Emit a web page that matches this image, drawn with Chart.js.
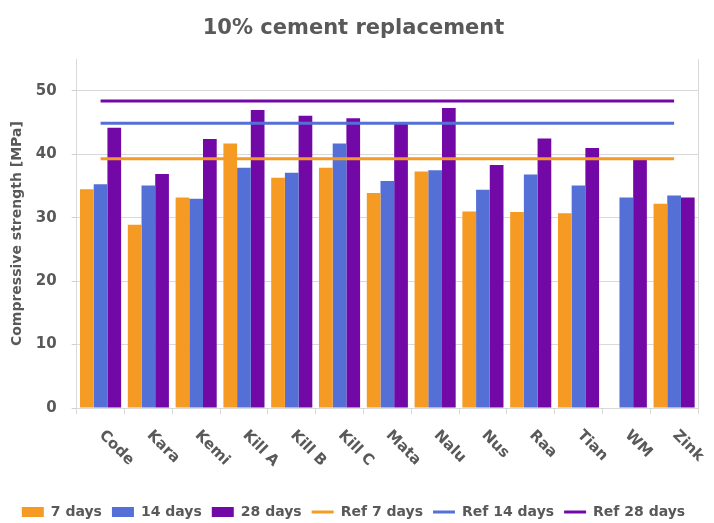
<!DOCTYPE html>
<html>
<head>
<meta charset="utf-8">
<script src="https://cdn.jsdelivr.net/npm/chart.js@4.4.1/dist/chart.umd.min.js"></script>
<style>
html,body{margin:0;padding:0;background:#fff;}
#wrap{width:714px;height:523px;}
</style>
</head>
<body>
<div id="wrap"><canvas id="c"></canvas></div>
<script>
const categories=['Code','Kara','Kemi','Kill A','Kill B','Kill C','Mata','Nalu','Nus','Raa','Tian','WM','Zink'];
const days7=[34.5,28.9,33.2,41.7,36.3,37.9,33.9,37.3,31.0,30.9,30.7,null,32.2];
const days14=[35.3,35.1,33.0,37.9,37.1,41.7,35.8,37.5,34.4,36.8,35.1,33.2,33.5];
const days28=[44.2,36.9,42.4,47.0,46.1,45.7,44.8,47.3,38.3,42.5,41.0,39.1,33.2];
const ref7=39.3;
const ref14=44.9;
const ref28=48.4;
const yTicks=[0,10,20,30,40,50];

const ORANGE='#f59a23';
const BLUE='#5470d6';
const PURPLE='#7209a7';
const GREY='#595959';
const FONT='"DejaVu Sans", sans-serif';

const xLabelPlugin={
id:'xLabels',
afterDraw(chart){
const ctx=chart.ctx;
const xs=chart.scales.x;
const a=chart.chartArea;
ctx.save();
ctx.strokeStyle='#d9d9d9';
ctx.lineWidth=1;
ctx.beginPath();
ctx.moveTo(a.right+0.5,a.top);
ctx.lineTo(a.right+0.5,a.bottom);
ctx.stroke();
ctx.fillStyle=GREY;
ctx.font='bold 15px '+FONT;
ctx.textAlign='left';
ctx.textBaseline='middle';
categories.forEach((c,i)=>{
const x=xs.getPixelForTick(i);
ctx.save();
ctx.translate(x+1,xs.top+25);
ctx.rotate(Math.PI/4);
ctx.fillText(c,0,0);
ctx.restore();
});
ctx.restore();
}
};

new Chart(document.getElementById('c'),{
data:{
labels:categories,
datasets:[
{type:'bar',label:'7 days',data:days7,backgroundColor:ORANGE,pointStyle:'rect',order:2},
{type:'bar',label:'14 days',data:days14,backgroundColor:BLUE,pointStyle:'rect',order:2},
{type:'bar',label:'28 days',data:days28,backgroundColor:PURPLE,pointStyle:'rect',order:2},
{type:'line',label:'Ref 7 days',data:categories.map(()=>ref7),borderColor:ORANGE,backgroundColor:ORANGE,borderWidth:3,pointRadius:0,pointStyle:'line',order:1},
{type:'line',label:'Ref 14 days',data:categories.map(()=>ref14),borderColor:BLUE,backgroundColor:BLUE,borderWidth:3,pointRadius:0,pointStyle:'line',order:1},
{type:'line',label:'Ref 28 days',data:categories.map(()=>ref28),borderColor:PURPLE,backgroundColor:PURPLE,borderWidth:3,pointRadius:0,pointStyle:'line',order:1}
]
},
options:{
responsive:true,
maintainAspectRatio:false,
animation:false,
layout:{padding:{left:9,right:16,bottom:-6}},
datasets:{bar:{categoryPercentage:0.86,barPercentage:1}},
plugins:{
title:{display:true,text:'10% cement replacement',color:GREY,font:{family:FONT,size:21,weight:'bold'},padding:{top:16,bottom:18}},
legend:{position:'bottom',labels:{usePointStyle:true,pointStyleWidth:22,boxHeight:10,color:GREY,padding:10,font:{family:FONT,size:14,weight:'bold'},
sort:(a,b)=>a.datasetIndex-b.datasetIndex}},
tooltip:{enabled:false}
},
scales:{
x:{
grid:{drawOnChartArea:false,color:'#d9d9d9',tickLength:6},
border:{color:'#d9d9d9'},
ticks:{display:false},
afterFit(scale){scale.height=87;}
},
y:{
min:0,max:55,
ticks:{stepSize:2,maxTicksLimit:100,autoSkip:false,color:GREY,padding:15,font:{family:FONT,size:15,weight:'bold'},
callback:(v)=>yTicks.includes(v)?String(v):null},
grid:{color:(c)=>yTicks.includes(c.tick.value)||c.tick.value===55?'#d9d9d9':'transparent',tickColor:'#cfcfcf',tickLength:5},
border:{color:'#d9d9d9'},
title:{display:true,text:'Compressive strength [MPa]',color:GREY,font:{family:FONT,size:14,weight:'bold'},padding:{top:0,bottom:-5}}
}
}
},
plugins:[xLabelPlugin]
});
</script>
</body>
</html>
